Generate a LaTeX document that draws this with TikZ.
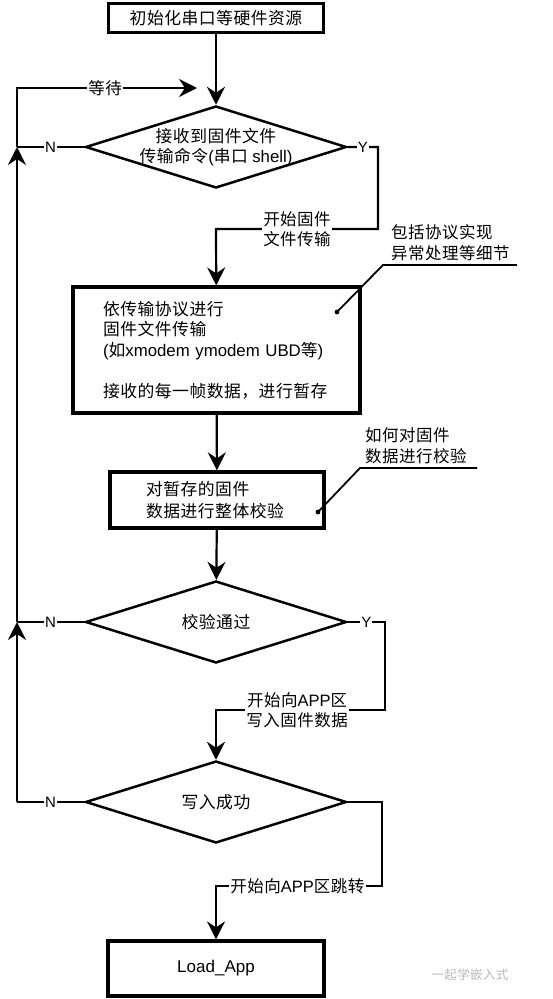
\documentclass[tikz,border=0pt]{standalone}
\usepackage{fontspec}
\setmainfont{Noto Sans CJK SC}[LetterSpace=3]
\newfontfamily\lat{Liberation Sans}
\usetikzlibrary{shapes.geometric,arrows.meta}
\def\lw{2.2pt}

\begin{document}
\begin{tikzpicture}[x=1pt, y=-1pt,
    box/.style={draw, line width=3.2pt, inner sep=0pt, font=\fontsize{16.8}{20.5}\selectfont},
    decision/.style={draw, diamond, line width=2.5pt, inner sep=0pt, minimum width=261pt, minimum height=82pt},
    dtext/.style={align=center, font=\fontsize{16.8}{20}\selectfont},
    flow/.style={line width=\lw, -{Stealth[length=18pt,width=18pt,inset=6pt]}},
    link/.style={line width=\lw},
    tag/.style={fill=white, inner sep=1.5pt, align=center, font=\fontsize{16.5}{20}\selectfont},
    yn/.style={fill=white, inner xsep=1pt, inner ysep=0pt, font=\lat\fontsize{15}{15}\selectfont},
    note/.style={align=left, inner sep=0pt, font=\fontsize{16.5}{21}\selectfont},
    pin/.style={line width=1.8pt}]
  \useasboundingbox (0,0) rectangle (552,999);

  \node[box, minimum width=215pt, minimum height=29pt] (init) at (216,18) {初始化串口等硬件资源};
  \node[decision, label={[dtext]center:接收到固件文件\\传输命令{\lat(}串口 {\lat shell)}}] (recv) at (216,147) {};
  \node[box, text width=227pt, inner xsep=30pt, minimum height=126pt, align=left] (xfer) at (216.5,350)
    {依传输协议进行\\固件文件传输\\{\lat(}如{\lat xmodem ymodem UBD}等{\lat)}\\[20.5pt]接收的每一帧数据，进行暂存};
  \node[box, text width=142pt, inner xsep=36pt, minimum height=56pt, align=left,
    font=\fontsize{16.8}{22}\selectfont] (check) at (217,500) {对暂存的固件\\数据进行整体校验};
  \node[decision, label={[dtext]center:校验通过}] (pass) at (216,622) {};
  \node[decision, label={[dtext]center:写入成功}] (write) at (216,802) {};
  \node[box, minimum width=216pt, minimum height=55pt, font=\lat\fontsize{17}{20}\selectfont] (load) at (216,968.5) {Load\_App};

  \node[note, anchor=west] (note1) at (391,243) {包括协议实现\\异常处理等细节};
  \node[note, anchor=west] (note2) at (365,445.5) {如何对固件\\数据进行校验};
  \node[text=gray!55, font=\fontsize{12.5}{12.5}\selectfont] (mark) at (470,975) {一起学嵌入式};

  \coordinate (waitEnd) at (197,88);
  \coordinate (loopTop) at (17,88);
  \coordinate (loopN1) at (17,147);
  \coordinate (loopN2) at (17,622);
  \coordinate (loopN3) at (17,802);
  \coordinate (yes1a) at (378,147);
  \coordinate (yes1b) at (378,229);
  \coordinate (yes1c) at (216,229);
  \coordinate (yes2a) at (385,622);
  \coordinate (yes2b) at (385,710);
  \coordinate (yes2c) at (216,710);
  \coordinate (yes3a) at (382,802);
  \coordinate (yes3b) at (382,886);
  \coordinate (yes3c) at (216,886);
  \coordinate (tip1) at (337,312);
  \coordinate (bend1) at (383,265);
  \coordinate (end1) at (517,265);
  \coordinate (tip2) at (318,512);
  \coordinate (bend2) at (360,468);
  \coordinate (end2) at (477,468);

  \draw[flow] (init) -- (recv);
  \draw[flow] (recv.east) -- node[yn]{Y} (yes1a) -- (yes1b) -- node[tag]{开始固件\\文件传输} (yes1c) -- (xfer);
  \draw[flow] (xfer) -- (check);
  \draw[flow] (check) -- (pass);
  \draw[flow] (pass.east) -- node[yn]{Y} (yes2a) -- (yes2b) -- node[tag, pos=.52]{开始向{\lat APP}区\\写入固件数据} (yes2c) -- (write);
  \draw[flow] (write.east) -- (yes3a) -- (yes3b) -- node[tag, pos=.51]{开始向{\lat APP}区跳转} (yes3c) -- (load);

  \draw[link] (recv.west) -- node[yn]{N} (loopN1);
  \draw[link] (pass.west) -- node[yn]{N} (loopN2);
  \draw[link] (write.west) -- node[yn]{N} (loopN3);
  \draw[flow] (loopN3) -- (loopN2);
  \draw[flow] (loopN2) -- (loopN1);
  \draw[flow] (loopN1) -- (loopTop) -- node[tag, pos=.49]{等待} (waitEnd);

  \draw[pin] (tip1) -- (bend1) -- (end1);
  \fill (tip1) circle (2.4);
  \draw[pin] (tip2) -- (bend2) -- (end2);
  \fill (tip2) circle (2.4);
\end{tikzpicture}
\end{document}
